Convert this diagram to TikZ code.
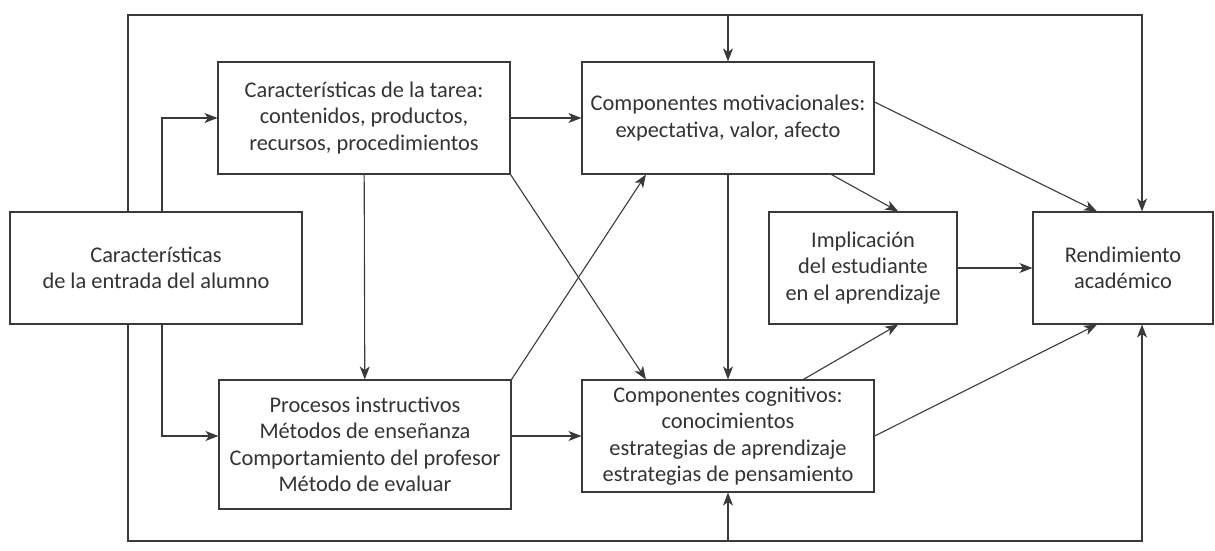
\documentclass[tikz,border=0pt]{standalone}
\usepackage{fontspec}
\setmainfont{Carlito}
\usetikzlibrary{arrows.meta,calc}
\definecolor{linegray}{HTML}{3A3A3A}
\definecolor{textgray}{HTML}{333333}
\begin{document}
\begin{tikzpicture}[x=0.5pt, y=-0.5pt, line width=0.55pt, draw=linegray,
  >={Stealth[length=6.5pt, width=5pt, inset=1.8pt]},
  box/.style={draw=linegray, rectangle, inner sep=0pt, align=center, text=textgray,
    font=\fontsize{11.2}{13.2}\selectfont, minimum width=146pt, minimum height=56pt}]
\useasboundingbox (0,0) rectangle (1215,551);
% boxes
\node[box] (entrada) at (156,268) {Características\\de la entrada del alumno};
\node[box] (tarea) at (364,118) {Características de la tarea:\\contenidos, productos,\\recursos, procedimientos};
\node[box] (motiv) at (728,118) {Componentes motivacionales:\\expectativa, valor, afecto};
\node[box, minimum height=64.5pt] (procesos) at (365,444.5) {Procesos instructivos\\Métodos de enseñanza\\Comportamiento del profesor\\Método de evaluar};
\node[box] (cognit) at (728,436) {Componentes cognitivos:\\conocimientos\\estrategias de aprendizaje\\estrategias de pensamiento};
\node[box, minimum width=94pt] (implic) at (863,268) {Implicación\\del estudiante\\en el aprendizaje};
\node[box, minimum width=90pt] (rend) at (1123,268) {Rendimiento\\académico};
% loop corners
\coordinate (tl) at (128,15);
\coordinate (tr) at (1142,15);
\coordinate (bl) at (128,541);
\coordinate (br) at (1142,541);
\coordinate (split) at (162,0);
% outer loops
\draw[->] (entrada.north -| tl) -- (tl) -- (tr) -- (rend.north -| tr);
\draw[->] (tl -| motiv) -- (motiv.north);
\draw[->] (entrada.south -| bl) -- (bl) -- (br) -- (rend.south -| br);
\draw[->] (bl -| cognit) -- (cognit.south);
% from the student
\draw[->] (entrada.north -| split) |- (tarea.west);
\draw[->] (entrada.south -| split) |- (procesos.west |- cognit.west);
% middle
\draw[->] (tarea) -- (motiv);
\draw[->] (tarea) -- (procesos);
\draw[->] (procesos.east |- cognit.west) -- (cognit.west);
\draw[->] (motiv) -- (cognit);
\draw[->] (tarea.south east) -- ($(cognit.north west)!0.22!(cognit.north east)$);
\draw[->] (procesos.north east) -- ($(motiv.south west)!0.22!(motiv.south east)$);
% to the student's involvement
\draw[->] ($(motiv.south west)!0.853!(motiv.south east)$) -- ($(implic.north west)!0.686!(implic.north east)$);
\draw[->] ($(cognit.north west)!0.757!(cognit.north east)$) -- ($(implic.south west)!0.686!(implic.south east)$);
% to the achievement
\draw[->] ($(motiv.east)+(0,-16)$) -- ($(rend.north west)!0.356!(rend.north east)$);
\draw[->] (cognit.east) -- ($(rend.south west)!0.356!(rend.south east)$);
\draw[->] (implic) -- (rend);
\end{tikzpicture}
\end{document}
